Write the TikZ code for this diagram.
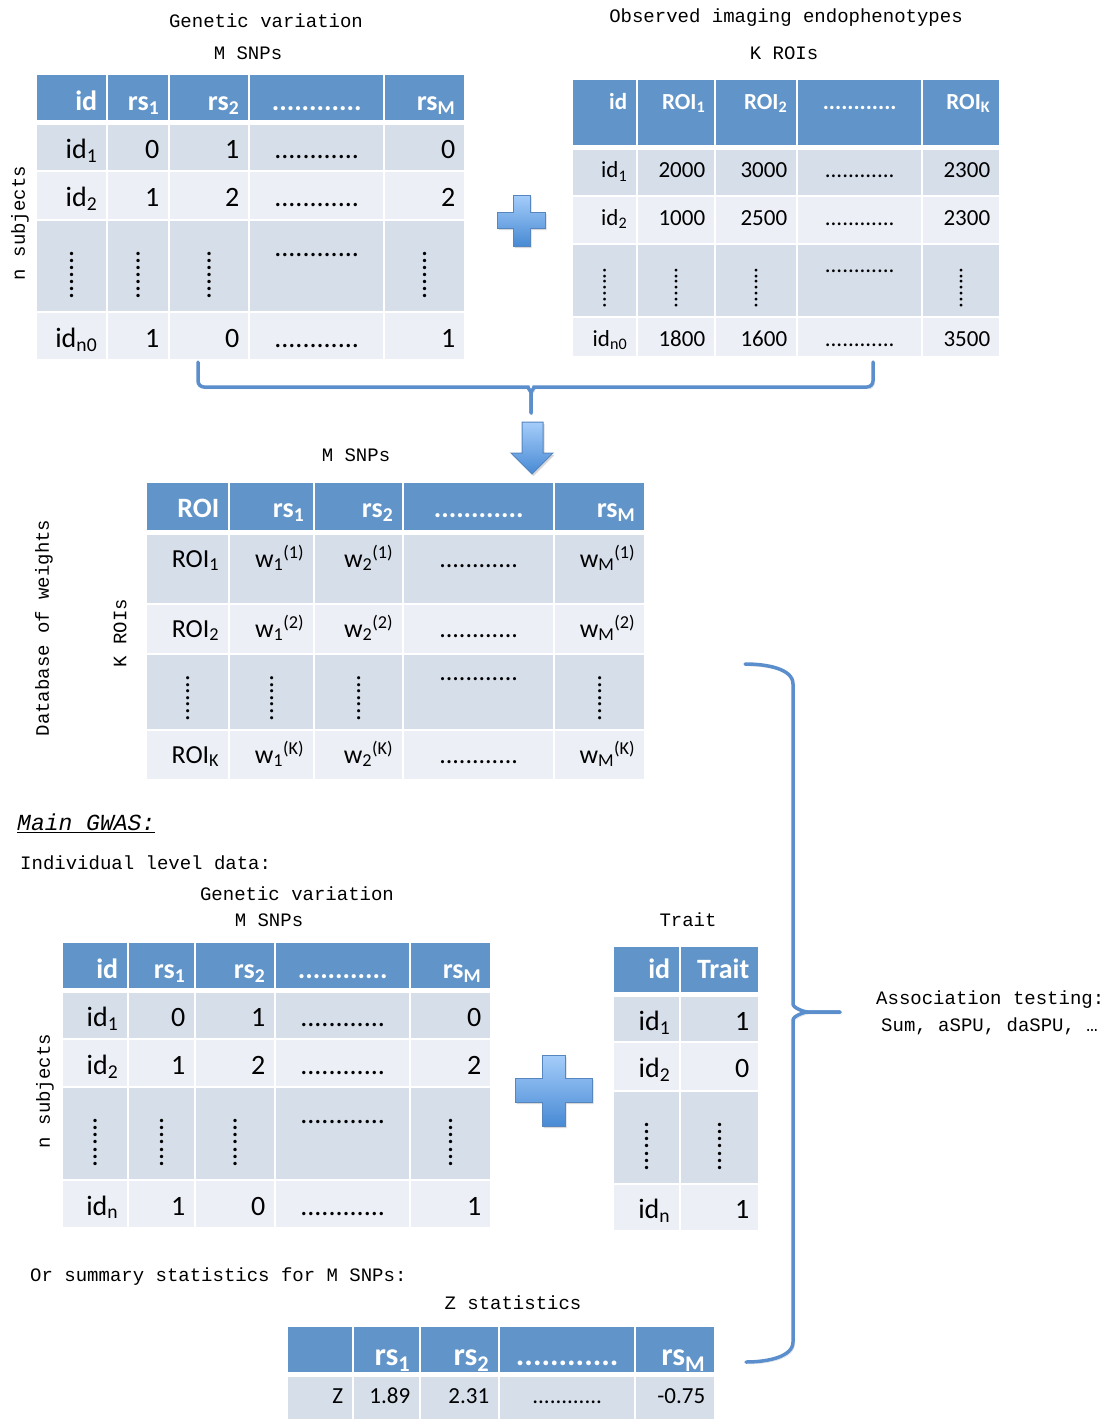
\documentclass[tikz,border=0pt]{standalone}
\usepackage{fontspec}
\usepackage{graphicx}
\newfontfamily\tabfont{Carlito}
\newfontfamily\labfont{Liberation Mono}
\usetikzlibrary{matrix,positioning,shadows}
\definecolor{hdrblue}{RGB}{97,149,201}
\definecolor{rowdark}{RGB}{214,222,234}
\definecolor{rowlight}{RGB}{236,239,245}
\definecolor{braceblue}{RGB}{90,142,204}
\definecolor{plustop}{RGB}{165,205,250}
\definecolor{plusbot}{RGB}{72,138,212}
\definecolor{plusedge}{RGB}{86,134,192}
\newcommand{\tsub}[1]{\textsubscript{#1}}
\newcommand{\tsup}[1]{\textsuperscript{#1}}
\newcommand{\vd}{\raisebox{-0.8em}{\rotatebox{90}{.......}}}
\newcommand{\hdtop}{\raisebox{0.75em}{............}}

\begin{document}
\begin{tikzpicture}[
  x=1pt, y=-1pt,
  tbl/.style={matrix of nodes, nodes in empty cells, anchor=north west, inner sep=0pt,
    column sep=2pt, row sep=2pt,
    nodes={anchor=center, inner xsep=9pt, inner ysep=0pt, align=right,
      text height=22pt, text depth=0pt, fill=rowlight}},
  hd/.style={nodes={fill=hdrblue, text=white, minimum height=#1}},
  dk/.style={nodes={fill=rowdark, minimum height=#1}},
  lt/.style={nodes={fill=rowlight, minimum height=#1}},
  dots/.style={nodes={fill=rowdark, minimum height=#1, align=center}},
  lbl/.style={font=\labfont\fontsize{19}{27}\selectfont, inner sep=0pt},
  brace/.style={draw=braceblue, line width=3.5pt, line cap=round, rounded corners=6pt,
    preaction={draw=black!15, transform canvas={shift={(1.5pt,-2pt)}}}},
  plus/.style={draw=plusedge, line width=1pt, top color=plustop, bottom color=plusbot,
    drop shadow={shadow xshift=1.5pt, shadow yshift=-2pt, opacity=0.3}}
]
\fill[white] (0,0) rectangle (1113,1419);
\useasboundingbox (0,0) rectangle (1113,1419);

% Reference genotypes
\node[lbl] (gTitle) at (266,21) {Genetic variation};
\node[lbl] (gSnps) at (248,53) {M SNPs};
\node[lbl, rotate=90] (gSubj) at (20,223) {n subjects};
\matrix[tbl, nodes={font=\tabfont\fontsize{28}{28}\selectfont},
  column 1/.style={nodes={text width=51pt}},
  column 2/.style={nodes={text width=42pt}},
  column 3/.style={nodes={text width=60pt}},
  column 4/.style={nodes={text width=115pt, align=center}},
  column 5/.style={nodes={text width=61pt}},
  row 1/.style={hd=45pt, nodes={font=\tabfont\bfseries\fontsize{28}{28}\selectfont, text height=25pt}},
  row 2/.style={dk=45pt}, row 3/.style={lt=47pt}, row 4/.style={dots=90pt}, row 5/.style={lt=46pt}]
  (geno) at (37,75) {
  id & rs\tsub{1} & rs\tsub{2} & ............ & rs\tsub{M} \\[3pt]
  id\tsub{1} & 0 & 1 & ............ & 0 \\
  id\tsub{2} & 1 & 2 & ............ & 2 \\
  \vd & \vd & \vd & \hdtop & \vd \\
  id\tsub{n0} & 1 & 0 & ............ & 1 \\
};

% Imaging endophenotypes
\node[lbl] (iTitle) at (786,18) {Observed imaging endophenotypes};
\node[lbl] (iRois) at (784,53) {K ROIs};
\matrix[tbl, nodes={font=\tabfont\fontsize{23}{23}\selectfont, text height=18pt},
  column 1/.style={nodes={text width=45pt}},
  column 2/.style={nodes={text width=58pt}},
  column 3/.style={nodes={text width=62pt}},
  column 4/.style={nodes={text width=105pt, align=center}},
  column 5/.style={nodes={text width=58pt}},
  row 1/.style={hd=65pt, nodes={font=\tabfont\bfseries\fontsize{23}{23}\selectfont, text depth=25pt}},
  row 2/.style={dk=45pt, nodes={text depth=8pt}},
  row 3/.style={lt=46pt, nodes={text depth=8pt}},
  row 4/.style={dots=71pt}, row 5/.style={lt=38pt}]
  (img) at (573,80) {
  id & ROI\tsub{1} & ROI\tsub{2} & ............ & ROI\tsub{K} \\[3pt]
  id\tsub{1} & 2000 & 3000 & ............ & 2300 \\
  id\tsub{2} & 1000 & 2500 & ............ & 2300 \\
  \vd & \vd & \vd & \hdtop & \vd \\
  id\tsub{n0} & 1800 & 1600 & ............ & 3500 \\
};

% Plus between the two
\path[plus] (513,195) -- (530,195) -- (530,212) -- (545,212) -- (545,228) -- (530,228)
  -- (530,246) -- (513,246) -- (513,228) -- (497,228) -- (497,212) -- (513,212) -- cycle;

% Brace and arrow down to the weights
\coordinate (tbL) at (198,362);
\coordinate (tbR) at (873,362);
\coordinate (tbM) at (531,387);
\coordinate (tbTip) at (531,413);
\draw[brace] (tbL) |- ([xshift=-9pt]tbM) to[out=0,in=90] ([yshift=-11pt]tbM) -- (tbTip);
\draw[brace] (tbTip) -- ([yshift=-11pt]tbM) to[out=90,in=180] ([xshift=9pt]tbM) -| (tbR);
\path[plus] (522,422) -- (543,422) -- (543,453) -- (553,453) -- (532,474) -- (511,453)
  -- (522,453) -- cycle;

% Database of weights
\node[lbl] (wSnps) at (356,455) {M SNPs};
\node[lbl, rotate=90] (wRois) at (120,633) {K ROIs};
\node[lbl, rotate=90] (wDb) at (44,628) {Database of weights};
\matrix[tbl, nodes={font=\tabfont\fontsize{26}{26}\selectfont, text height=21pt},
  column 1/.style={nodes={text width=63pt}},
  column 2/.style={nodes={text width=65pt}},
  column 3/.style={nodes={text width=69pt}},
  column 4/.style={nodes={text width=131pt, align=center}},
  column 5/.style={nodes={text width=71pt}},
  row 1/.style={hd=47pt, nodes={font=\tabfont\bfseries\fontsize{28}{28}\selectfont, text height=22pt}},
  row 2/.style={dk=68pt, nodes={text depth=25pt}},
  row 3/.style={lt=48pt, nodes={text depth=5pt}},
  row 4/.style={dots=74pt, nodes={text depth=5pt}},
  row 5/.style={lt=48pt, nodes={text depth=5pt}}]
  (wts) at (147,483) {
  ROI & rs\tsub{1} & rs\tsub{2} & ............ & rs\tsub{M} \\[3pt]
  ROI\tsub{1} & w\tsub{1}\tsup{(1)} & w\tsub{2}\tsup{(1)} & ............ & w\tsub{M}\tsup{(1)} \\
  ROI\tsub{2} & w\tsub{1}\tsup{(2)} & w\tsub{2}\tsup{(2)} & ............ & w\tsub{M}\tsup{(2)} \\
  \vd & \vd & \vd & \hdtop & \vd \\
  ROI\tsub{K} & w\tsub{1}\tsup{(K)} & w\tsub{2}\tsup{(K)} & ............ & w\tsub{M}\tsup{(K)} \\
};

% Main GWAS
\node[lbl, anchor=west, font=\labfont\itshape\fontsize{23}{27}\selectfont] (gwas) at (17,823) {\underline{Main GWAS:}};
\node[lbl, anchor=west] (indiv) at (20,863) {Individual level data:};
\node[lbl] (g2Title) at (297,894) {Genetic variation};
\node[lbl] (g2Snps) at (269,920) {M SNPs};
\node[lbl, rotate=90] (g2Subj) at (45,1091) {n subjects};
\matrix[tbl, nodes={font=\tabfont\fontsize{28}{28}\selectfont},
  column 1/.style={nodes={text width=46pt}},
  column 2/.style={nodes={text width=47pt}},
  column 3/.style={nodes={text width=60pt}},
  column 4/.style={nodes={text width=115pt, align=center}},
  column 5/.style={nodes={text width=61pt}},
  row 1/.style={hd=45pt, nodes={font=\tabfont\bfseries\fontsize{28}{28}\selectfont, text height=25pt}},
  row 2/.style={dk=45pt}, row 3/.style={lt=46pt}, row 4/.style={dots=91pt}, row 5/.style={lt=46pt}]
  (geno2) at (63,943) {
  id & rs\tsub{1} & rs\tsub{2} & ............ & rs\tsub{M} \\[3pt]
  id\tsub{1} & 0 & 1 & ............ & 0 \\
  id\tsub{2} & 1 & 2 & ............ & 2 \\
  \vd & \vd & \vd & \hdtop & \vd \\
  id\tsub{n} & 1 & 0 & ............ & 1 \\
};

\path[plus] (542,1055) -- (565,1055) -- (565,1078) -- (592,1078) -- (592,1102) -- (565,1102)
  -- (565,1126) -- (542,1126) -- (542,1102) -- (515,1102) -- (515,1078) -- (542,1078) -- cycle;

% Trait
\node[lbl] (tTitle) at (688,920) {Trait};
\matrix[tbl, nodes={font=\tabfont\fontsize{28}{28}\selectfont},
  column 1/.style={nodes={text width=47pt}},
  column 2/.style={nodes={text width=59pt}},
  row 1/.style={hd=45pt, nodes={font=\tabfont\bfseries\fontsize{28}{28}\selectfont, text depth=5pt}},
  row 2/.style={dk=44pt}, row 3/.style={lt=47pt}, row 4/.style={dots=91pt}, row 5/.style={lt=45pt}]
  (trait) at (614,947) {
  id & Trait \\[3pt]
  id\tsub{1} & 1 \\
  id\tsub{2} & 0 \\
  \vd & \vd \\
  id\tsub{n} & 1 \\
};

% Summary statistics
\node[lbl, anchor=west] (orSum) at (30,1277) {Or summary statistics for M SNPs:};
\node[lbl] (zTitle) at (513,1303) {Z statistics};
\matrix[tbl, nodes={font=\tabfont\fontsize{23}{23}\selectfont, text height=18pt},
  column 1/.style={nodes={text width=46pt}},
  column 2/.style={nodes={text width=47pt}},
  column 3/.style={nodes={text width=59pt}},
  column 4/.style={nodes={text width=116pt, align=center}},
  column 5/.style={nodes={text width=60pt}},
  row 1/.style={hd=45pt, nodes={font=\tabfont\bfseries\fontsize{32}{32}\selectfont, text height=31pt}},
  row 2/.style={dk=45pt, nodes={text depth=11pt}}]
  (zstat) at (288,1327) {
  & rs\tsub{1} & rs\tsub{2} & ............ & rs\tsub{M} \\[3pt]
  Z & 1.89 & 2.31 & ............ & -0.75 \\
};

% Association testing
\node[lbl, anchor=west, align=left] (assoc) at (876,1013) {Association testing:\\\hspace*{5pt}Sum, aSPU, daSPU, …};
\coordinate (bbTop) at (745,664);
\coordinate (bbBot) at (746,1362);
\coordinate (bbTip) at (840,1012);
\draw[brace] (bbTop) to[out=0,in=90] (793,690) -- (793,998) to[out=-90,in=180] (814,1012) -- (bbTip);
\draw[brace] (bbTip) -- (814,1012) to[out=180,in=90] (793,1026) -- (793,1336) to[out=-90,in=0] (bbBot);
\end{tikzpicture}
\end{document}
